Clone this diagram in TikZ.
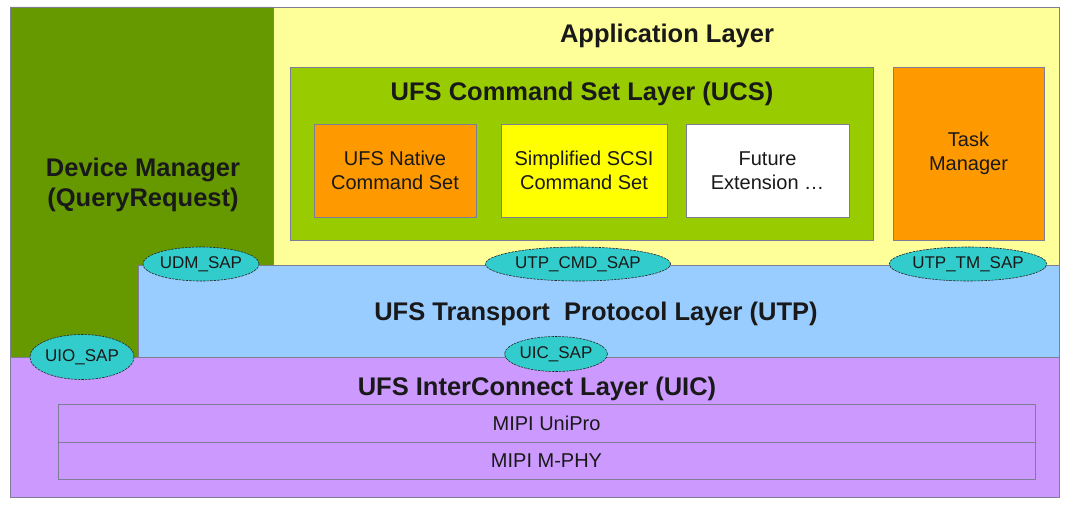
\documentclass[tikz,border=0pt]{standalone}
\usepackage{fontspec}
\setmainfont{Liberation Sans}
\usetikzlibrary{shapes.geometric}
\definecolor{edgegray}{RGB}{125,125,150}
\definecolor{devgreen}{HTML}{669900}
\definecolor{appyellow}{HTML}{FFFF99}
\definecolor{ucsgreen}{HTML}{99CC00}
\definecolor{nativeorange}{HTML}{FF9900}
\definecolor{scsiyellow}{HTML}{FFFF00}
\definecolor{utpblue}{HTML}{99CCFF}
\definecolor{uicpurple}{HTML}{CC99FF}
\definecolor{sapteal}{HTML}{33CCCC}
\begin{document}
\begin{tikzpicture}[x=1pt,y=-1pt,
    layer/.style={draw=edgegray, line width=0.8pt},
    title/.style={font=\fontsize{25.5}{30}\selectfont\bfseries, align=center, text=black!90},
    label/.style={font=\fontsize{20}{24}\selectfont, align=center, text=black!90},
    box/.style={draw=edgegray, line width=0.8pt, inner sep=0pt},
    sap/.style={ellipse, draw=black!85, fill=sapteal, line width=0.6pt,
      dash pattern=on 2.5pt off 1pt, inner sep=0pt,
      font=\fontsize{17}{20}\selectfont, text=black!90}]
  \useasboundingbox (0,0) rectangle (1075,505);
  % layers
  \filldraw[layer, fill=appyellow] (273,7) rectangle (1059,265);
  \filldraw[layer, fill=utpblue] (138,265) rectangle (1059,357);
  \filldraw[layer, fill=uicpurple] (10,357) rectangle (1059,497);
  \filldraw[layer, fill=devgreen] (10,7) -- (273,7) -- (273,265) -- (138,265)
    -- (138,357) -- (10,357) -- cycle;
  \node[title] (app) at (667,36) {Application Layer};
  \node[title] (dm) at (143,185) {Device Manager\\(QueryRequest)};
  \node[title] (utp) at (596,314) {UFS Transport\ \ Protocol Layer (UTP)};
  \node[title] (uic) at (537,389) {UFS InterConnect Layer (UIC)};
  % command set layer
  \node[box, fill=ucsgreen, minimum width=583pt, minimum height=173pt] (ucs) at (581.5,153.5) {};
  \node[title] (ucstitle) at (582,94) {UFS Command Set Layer (UCS)};
  \node[box, label, fill=nativeorange, minimum width=162pt, minimum height=93pt] (native) at (395,170.5) {UFS Native\\Command Set};
  \node[box, label, fill=scsiyellow, minimum width=166pt, minimum height=93pt] (scsi) at (584,170.5) {Simplified SCSI\\Command Set};
  \node[box, label, fill=white, minimum width=163pt, minimum height=93pt] (future) at (767.5,170.5) {Future\\Extension \dots};
  \node[box, label, fill=nativeorange, minimum width=151pt, minimum height=173pt] (task) at (968.5,153.5) {Task\\Manager};
  % mipi
  \node[box, label, minimum width=977pt, minimum height=38pt] (unipro) at (546.5,423) {MIPI UniPro};
  \node[box, label, minimum width=977pt, minimum height=37pt] (mphy) at (546.5,460.5) {MIPI M-PHY};
  % service access points
  \node[sap, minimum width=111pt, minimum height=34pt] (udm) at (201,264) {UDM\_SAP};
  \node[sap, minimum width=185pt, minimum height=34pt] (utpcmd) at (578,264) {UTP\_CMD\_SAP};
  \node[sap, minimum width=144pt, minimum height=34pt] (utptm) at (968,264) {UTP\_TM\_SAP};
  \node[sap, minimum width=104pt, minimum height=45pt] (uio) at (82,357) {UIO\_SAP};
  \node[sap, minimum width=101pt, minimum height=35pt] (uicsap) at (556,354) {UIC\_SAP};
\end{tikzpicture}
\end{document}
